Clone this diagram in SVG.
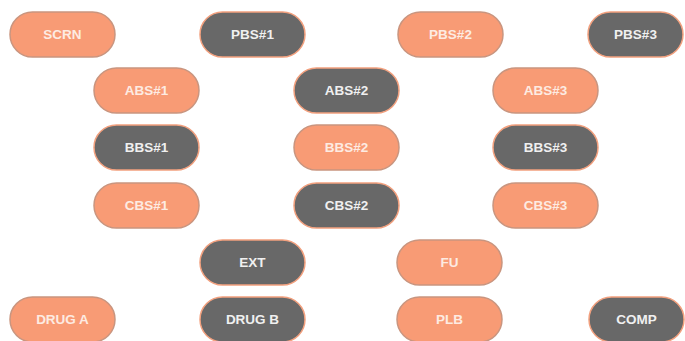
<svg xmlns="http://www.w3.org/2000/svg" width="685" height="341" viewBox="0 0 685 341">
<style>
.o rect{fill:#F89B75;stroke:#C9957F;stroke-width:1.5}
.g rect{fill:#686868;stroke:#F2A07E;stroke-width:1.5}
text{font-family:"Liberation Sans",Arial,sans-serif;font-weight:bold;font-size:13.5px;text-anchor:middle;dominant-baseline:central}
.o text{fill:#FDEBE2}
.g text{fill:#F0F0F0}
</style>
<rect width="685" height="341" fill="#ffffff"/>
<g id="connectors"></g>
<g id="scrn" class="o"><rect x="10" y="12" width="105" height="45" rx="22.5"/><text x="62.5" y="34.5">SCRN</text></g>
<g id="pbs1" class="g"><rect x="200" y="12" width="105" height="45" rx="22.5"/><text x="252.5" y="34.5">PBS#1</text></g>
<g id="pbs2" class="o"><rect x="398" y="12" width="105" height="45" rx="22.5"/><text x="450.5" y="34.5">PBS#2</text></g>
<g id="pbs3" class="g"><rect x="588" y="12" width="95" height="45" rx="22.5"/><text x="635.5" y="34.5">PBS#3</text></g>
<g id="abs1" class="o"><rect x="94" y="68" width="105" height="45" rx="22.5"/><text x="146.5" y="90.5">ABS#1</text></g>
<g id="abs2" class="g"><rect x="294" y="68" width="105" height="45" rx="22.5"/><text x="346.5" y="90.5">ABS#2</text></g>
<g id="abs3" class="o"><rect x="493" y="68" width="105" height="45" rx="22.5"/><text x="545.5" y="90.5">ABS#3</text></g>
<g id="bbs1" class="g"><rect x="94" y="125" width="105" height="45" rx="22.5"/><text x="146.5" y="147.5">BBS#1</text></g>
<g id="bbs2" class="o"><rect x="294" y="125" width="105" height="45" rx="22.5"/><text x="346.5" y="147.5">BBS#2</text></g>
<g id="bbs3" class="g"><rect x="493" y="125" width="105" height="45" rx="22.5"/><text x="545.5" y="147.5">BBS#3</text></g>
<g id="cbs1" class="o"><rect x="94" y="183" width="105" height="45" rx="22.5"/><text x="146.5" y="205.5">CBS#1</text></g>
<g id="cbs2" class="g"><rect x="294" y="183" width="105" height="45" rx="22.5"/><text x="346.5" y="205.5">CBS#2</text></g>
<g id="cbs3" class="o"><rect x="493" y="183" width="105" height="45" rx="22.5"/><text x="545.5" y="205.5">CBS#3</text></g>
<g id="ext" class="g"><rect x="200" y="240" width="105" height="45" rx="22.5"/><text x="252.5" y="262.5">EXT</text></g>
<g id="fu" class="o"><rect x="397" y="240" width="105" height="45" rx="22.5"/><text x="449.5" y="262.5">FU</text></g>
<g id="druga" class="o"><rect x="10" y="297" width="105" height="45" rx="22.5"/><text x="62.5" y="319.5">DRUG A</text></g>
<g id="drugb" class="g"><rect x="200" y="297" width="105" height="45" rx="22.5"/><text x="252.5" y="319.5">DRUG B</text></g>
<g id="plb" class="o"><rect x="397" y="297" width="105" height="45" rx="22.5"/><text x="449.5" y="319.5">PLB</text></g>
<g id="comp" class="g"><rect x="589" y="297" width="95" height="45" rx="22.5"/><text x="636.5" y="319.5">COMP</text></g>
</svg>
